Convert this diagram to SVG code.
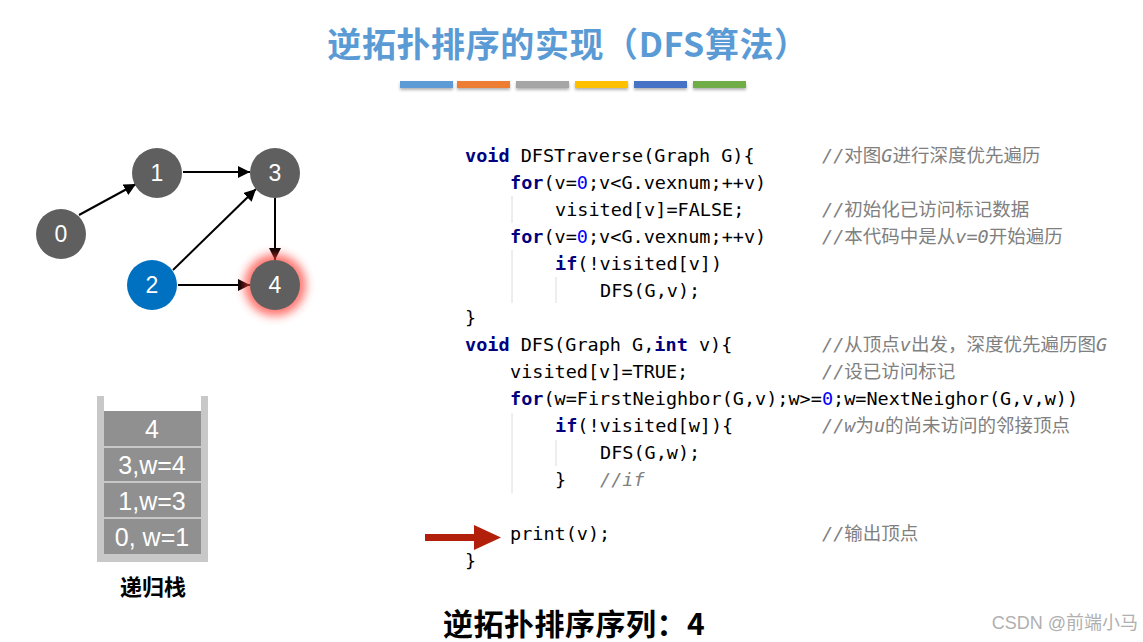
<svg xmlns="http://www.w3.org/2000/svg" width="1143" height="642" viewBox="0 0 1143 642">
<style>
.title{font-family:"Noto Sans CJK SC","Liberation Sans",sans-serif;font-size:34px;font-weight:bold;fill:#5B9BD5;letter-spacing:0.6px}
.nd{fill:#5f5f5f}
.nt{font-family:"Liberation Sans",Arial,sans-serif;font-size:23px;fill:#fff;text-anchor:middle}
.edge{stroke:#000;stroke-width:2;fill:none;marker-end:url(#ah)}
.code{font-family:"DejaVu Sans Mono","Noto Sans CJK SC",monospace;font-size:18.5px;fill:#000}
.kw{fill:#000080;font-weight:bold}
.num{fill:#0000ff}
.cm{font-family:"DejaVu Sans Mono","Noto Sans CJK SC",monospace;font-size:18.5px;fill:#808080}
.it{font-style:italic}
.guide{stroke:#dcdcdc;stroke-width:1}
.st{font-family:"Liberation Sans",Arial,sans-serif;font-size:25px;fill:#fff;text-anchor:middle}
.bar{filter:url(#sh)}
</style>
<defs>
<marker id="ah" viewBox="0 0 10 10" refX="10" refY="5" markerWidth="6" markerHeight="6" orient="auto" markerUnits="strokeWidth">
<path d="M0,0 L10,5 L0,10 z" fill="#000"/>
</marker>
<filter id="glow" x="-100%" y="-100%" width="300%" height="300%">
<feGaussianBlur stdDeviation="5"/>
</filter>
<filter id="sh" x="-10%" y="-50%" width="120%" height="250%">
<feDropShadow dx="0" dy="2" stdDeviation="1.5" flood-color="#000" flood-opacity="0.3"/>
</filter>
</defs>
<rect width="1143" height="642" fill="#fff"/>
<g id="title">
<text class="title" x="568" y="57" text-anchor="middle">逆拓扑排序的实现（DFS算法）</text>
<rect class="bar" x="400" y="81" width="53" height="7" fill="#5B9BD5"/>
<rect class="bar" x="457" y="81" width="53" height="7" fill="#ED7D31"/>
<rect class="bar" x="516" y="81" width="53" height="7" fill="#A5A5A5"/>
<rect class="bar" x="575" y="81" width="53" height="7" fill="#FFC000"/>
<rect class="bar" x="634" y="81" width="53" height="7" fill="#4472C4"/>
<rect class="bar" x="693" y="81" width="53" height="7" fill="#70AD47"/>
</g>
<g id="connectors">
<line class="edge" x1="79" y1="215" x2="136" y2="184"/>
<line class="edge" x1="183" y1="172" x2="250" y2="172"/>
<line class="edge" x1="173" y1="270" x2="256" y2="189"/>
<line class="edge" x1="178" y1="285" x2="250" y2="285"/>
<line class="edge" x1="275" y1="198" x2="275" y2="260"/>
</g>
<g id="node0"><circle class="nd" cx="61" cy="234" r="25"/><text class="nt" x="61" y="242">0</text></g>
<g id="node1"><circle class="nd" cx="157" cy="173" r="25"/><text class="nt" x="157" y="181">1</text></g>
<g id="node3"><circle class="nd" cx="275" cy="173" r="25"/><text class="nt" x="275" y="181">3</text></g>
<g id="node2"><circle cx="152" cy="285" r="25" fill="#0070C0"/><text class="nt" x="152" y="293">2</text></g>
<g id="node4"><circle cx="275" cy="285" r="31" fill="#ff3b30" opacity="0.7" filter="url(#glow)"/><circle class="nd" cx="275" cy="285" r="25"/><text class="nt" x="275" y="293">4</text></g>
<g id="stack">
<rect x="97" y="396" width="7" height="166" fill="#c8c8c8"/>
<rect x="201" y="396" width="7" height="166" fill="#c8c8c8"/>
<rect x="97" y="554" width="111" height="8" fill="#c8c8c8"/>
<rect x="104" y="411" width="97" height="143" fill="#909090"/>
<line x1="104" y1="447" x2="201" y2="447" stroke="#fff" stroke-width="1"/>
<line x1="104" y1="482" x2="201" y2="482" stroke="#fff" stroke-width="1"/>
<line x1="104" y1="518" x2="201" y2="518" stroke="#fff" stroke-width="1"/>
<text class="st" x="152" y="438">4</text>
<text class="st" x="152" y="474">3,w=4</text>
<text class="st" x="152" y="510">1,w=3</text>
<text class="st" x="152" y="546">0, w=1</text>
<text x="153" y="595" text-anchor="middle" font-family="Noto Sans CJK SC,sans-serif" font-size="22" font-weight="bold" fill="#000">递归栈</text>
</g>
<g id="code" xml:space="preserve">
<line class="guide" x1="512" y1="196" x2="512" y2="223"/>
<line class="guide" x1="512" y1="250" x2="512" y2="303"/>
<line class="guide" x1="556" y1="277" x2="556" y2="303"/>
<line class="guide" x1="512" y1="413" x2="512" y2="493"/>
<line class="guide" x1="556" y1="440" x2="556" y2="466"/>
<text class="code" x="465" y="162"><tspan class="kw">void</tspan> DFSTraverse(Graph G){</text>
<text class="code" x="510" y="189"><tspan class="kw">for</tspan>(v=<tspan class="num">0</tspan>;v&lt;G.vexnum;++v)</text>
<text class="code" x="555" y="216">visited[v]=FALSE;</text>
<text class="code" x="510" y="243"><tspan class="kw">for</tspan>(v=<tspan class="num">0</tspan>;v&lt;G.vexnum;++v)</text>
<text class="code" x="555" y="270"><tspan class="kw">if</tspan>(!visited[v])</text>
<text class="code" x="600" y="297">DFS(G,v);</text>
<text class="code" x="465" y="324">}</text>
<text class="code" x="465" y="351"><tspan class="kw">void</tspan> DFS(Graph G,<tspan class="kw">int</tspan> v){</text>
<text class="code" x="510" y="378">visited[v]=TRUE;</text>
<text class="code" x="510" y="405"><tspan class="kw">for</tspan>(w=FirstNeighbor(G,v);w&gt;=<tspan class="num">0</tspan>;w=NextNeighor(G,v,w))</text>
<text class="code" x="555" y="432"><tspan class="kw">if</tspan>(!visited[w]){</text>
<text class="code" x="600" y="459">DFS(G,w);</text>
<text class="code" x="555" y="486">}</text>
<text class="cm it" x="600" y="486">//if</text>
<text class="code" x="510" y="540">print(v);</text>
<text class="code" x="465" y="567">}</text>
<text class="cm" x="822" y="162"><tspan class="it">//</tspan>对图<tspan class="it">G</tspan>进行深度优先遍历</text>
<text class="cm" x="822" y="216"><tspan class="it">//</tspan>初始化已访问标记数据</text>
<text class="cm" x="822" y="243"><tspan class="it">//</tspan>本代码中是从<tspan class="it">v=0</tspan>开始遍历</text>
<text class="cm" x="822" y="351"><tspan class="it">//</tspan>从顶点<tspan class="it">v</tspan>出发，深度优先遍历图<tspan class="it">G</tspan></text>
<text class="cm" x="822" y="378"><tspan class="it">//</tspan>设已访问标记</text>
<text class="cm" x="822" y="432"><tspan class="it">//w</tspan>为<tspan class="it">u</tspan>的尚未访问的邻接顶点</text>
<text class="cm" x="822" y="540"><tspan class="it">//</tspan>输出顶点</text>
</g>
<g id="pointer">
<rect x="425" y="534" width="52" height="7" fill="#B21F0B"/>
<path d="M474,525 L501,537.5 L474,550 z" fill="#B21F0B"/>
</g>
<g id="result">
<text x="443" y="635" font-family="Noto Sans CJK SC,Liberation Sans,sans-serif" font-size="30" font-weight="bold" fill="#000" letter-spacing="0.5">逆拓扑排序序列：4</text>
<text x="1138" y="629" text-anchor="end" font-family="Liberation Sans,Noto Sans CJK SC,sans-serif" font-size="18" fill="#b0b0b0">CSDN @前端小马</text>
</g>
</svg>
